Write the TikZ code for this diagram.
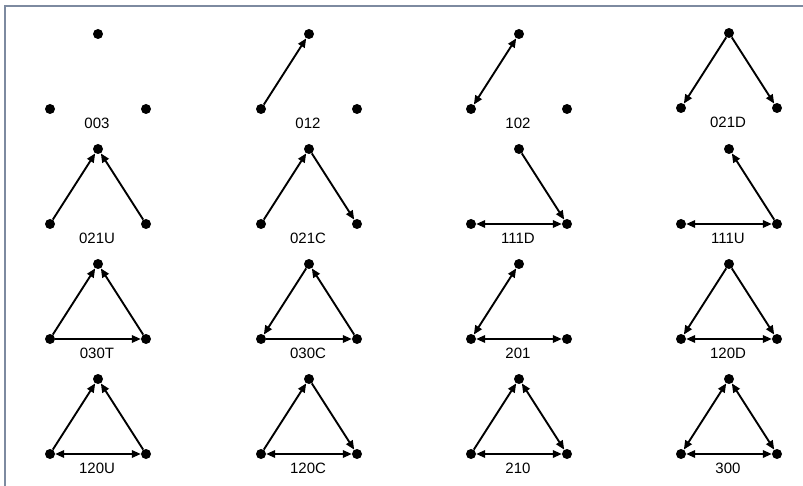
\documentclass[tikz,border=0pt]{standalone}
\usepackage{fontspec}
\setmainfont{Liberation Sans}
\usetikzlibrary{arrows.meta}
\definecolor{framecol}{RGB}{125,138,160}
\newcommand\mytriad[4]{%
  \node[dot] (#1T) at ({#2+48},{#3}) {};
  \node[dot] (#1L) at ({#2},{#3+75}) {};
  \node[dot] (#1R) at ({#2+96},{#3+75}) {};
  \node[lbl] (#1lab) at ({#2+47},{#3+89}) {#4};
}
\begin{document}
\begin{tikzpicture}[x=1pt,y=-1pt,
  dot/.style={circle,fill=black,inner sep=0pt,minimum size=10pt},
  lbl/.style={inner sep=0pt,font=\fontsize{15}{17}\selectfont},
  edge/.style={line width=1.9pt},
  >={Triangle[length=9pt,width=7.5pt]}]
\useasboundingbox (0,0) rectangle (803,486);
\draw[framecol,line width=1.5pt] (5,486) -- (5,6) -- (803,6);
% row 1
\mytriad{a}{50}{34}{003}
\mytriad{b}{261}{34}{012}
\mytriad{c}{471}{34}{102}
\mytriad{d}{681}{33}{021D}
% row 2
\mytriad{e}{50}{149}{021U}
\mytriad{f}{261}{149}{021C}
\mytriad{g}{471}{149}{111D}
\mytriad{h}{681}{149}{111U}
% row 3
\mytriad{i}{50}{264}{030T}
\mytriad{j}{261}{264}{030C}
\mytriad{k}{471}{264}{201}
\mytriad{l}{681}{264}{120D}
% row 4
\mytriad{m}{50}{379}{120U}
\mytriad{n}{261}{379}{120C}
\mytriad{o}{471}{379}{210}
\mytriad{p}{681}{379}{300}
% edges
\draw[edge,->] (bL) -- (bT);
\draw[edge,<->] (cL) -- (cT);
\draw[edge,->] (dT) -- (dL);
\draw[edge,->] (dT) -- (dR);
\draw[edge,->] (eL) -- (eT);
\draw[edge,->] (eR) -- (eT);
\draw[edge,->] (fL) -- (fT);
\draw[edge,->] (fT) -- (fR);
\draw[edge,->] (gT) -- (gR);
\draw[edge,<->] (gL) -- (gR);
\draw[edge,->] (hR) -- (hT);
\draw[edge,<->] (hL) -- (hR);
\draw[edge,->] (iL) -- (iT);
\draw[edge,->] (iR) -- (iT);
\draw[edge,->] (iL) -- (iR);
\draw[edge,->] (jT) -- (jL);
\draw[edge,->] (jL) -- (jR);
\draw[edge,->] (jR) -- (jT);
\draw[edge,<->] (kL) -- (kT);
\draw[edge,<->] (kL) -- (kR);
\draw[edge,->] (lT) -- (lL);
\draw[edge,->] (lT) -- (lR);
\draw[edge,<->] (lL) -- (lR);
\draw[edge,->] (mL) -- (mT);
\draw[edge,->] (mR) -- (mT);
\draw[edge,<->] (mL) -- (mR);
\draw[edge,->] (nL) -- (nT);
\draw[edge,->] (nT) -- (nR);
\draw[edge,<->] (nL) -- (nR);
\draw[edge,->] (oL) -- (oT);
\draw[edge,<->] (oT) -- (oR);
\draw[edge,<->] (oL) -- (oR);
\draw[edge,<->] (pL) -- (pT);
\draw[edge,<->] (pT) -- (pR);
\draw[edge,<->] (pL) -- (pR);
\end{tikzpicture}
\end{document}
